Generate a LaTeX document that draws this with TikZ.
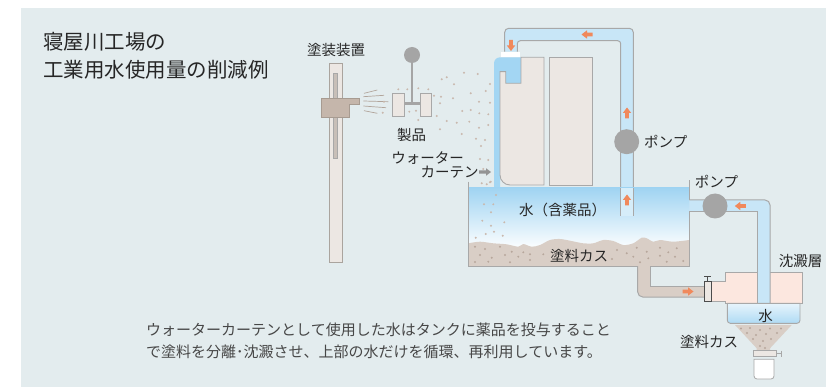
\documentclass[tikz,border=0pt]{standalone}
\usepackage{fontspec}
\setmainfont{Noto Sans CJK JP}
\definecolor{bgc}{HTML}{E3ECEE}
\definecolor{txt}{HTML}{262626}
\definecolor{edge}{HTML}{A8A8A8}
\definecolor{pipeblue}{HTML}{C8E6F7}
\definecolor{pipelight}{HTML}{D6EDF9}
\definecolor{towerblue}{HTML}{A3D6F3}
\definecolor{watertop}{HTML}{A0D4F2}
\definecolor{watermid}{HTML}{CDEAF9}
\definecolor{panelc}{HTML}{ECE7E3}
\definecolor{sedc}{HTML}{D9CEC6}
\definecolor{sedmark}{HTML}{B7A79C}
\definecolor{pumpc}{HTML}{A5A5A5}
\definecolor{flowc}{HTML}{F0895C}
\definecolor{pinkc}{HTML}{FCE7DF}
\definecolor{gunc}{HTML}{C5B6AB}
\definecolor{slotc}{HTML}{C8BFB8}
\definecolor{mist}{HTML}{C9B8AD}
\begin{document}
\begin{tikzpicture}[x=1pt,y=-1pt,
  lbl/.style={inner sep=0pt,text=txt,font=\fontsize{14.5}{17}\selectfont},
  wall/.style={draw=edge,line width=1pt},
  flow/.pic={\fill[flowc] (-5.5,-1.8) -- (0,-1.8) -- (0,-4.2) -- (5.5,0) -- (0,4.2) -- (0,1.8) -- (-5.5,1.8) -- cycle;},
  greyflow/.pic={\fill[pumpc!90!black] (-6,-1.6) -- (1,-1.6) -- (1,-3.8) -- (6,0) -- (1,3.8) -- (1,1.6) -- (-6,1.6) -- cycle;},
  pump/.style={circle,fill=pumpc,inner sep=0pt,minimum size=25pt},
  mistdot/.style={fill=mist},
  seddot/.style={fill=sedmark}]

\useasboundingbox (0,0) rectangle (826,387);
\fill[white] (0,0) rectangle (826,387);
\fill[bgc] (21,8) rectangle (826,387);

% ---------- title ----------
\node[anchor=west,inner sep=0pt,align=left,text=txt,font=\fontsize{20.5}{28}\selectfont]
  (title) at (43,56) {寝屋川工場の\\工業用水使用量の削減例};

% ---------- painting device ----------
\draw[draw=edge!90!brown,fill=panelc,line width=0.8pt] (329,63) rectangle (342,262);
\draw[draw=edge,fill=slotc,line width=0.6pt] (333.7,73) rectangle (337.3,158);
\draw[draw=gunc!85!black,fill=gunc,line width=0.6pt]
  (321,98.3) -- (359.3,98.3) -- (359.3,104) -- (349.3,104) -- (349.3,117.3) -- (321,117.3) -- cycle;
\node[lbl] (device) at (336,50) {塗装装置};
\begin{scope}[draw=gunc!90!black,line width=0.7pt]
  \draw (364,93.3) -- (377.3,90);
  \draw (363.3,96.7) -- (384,95.3);
  \draw (363.3,101) -- (388.3,101.7);
  \draw (363.3,106) -- (386,107.7);
  \draw (364,110.7) -- (377.3,113.3);
\end{scope}

% ---------- product on hanger ----------
\draw[pumpc,line width=2.4pt] (412,60) -- (412,103.3);
\fill[pumpc] (412,55) circle (8);
\draw[pumpc,line width=3pt] (403,103.3) -- (421,103.3);
\draw[edge,fill=panelc,line width=0.8pt] (392.7,93) rectangle (404,116);
\draw[edge,fill=panelc,line width=0.8pt] (420,93) rectangle (431,116);
\node[lbl] (product) at (411.7,135) {製品};

% paint mist
\foreach \p in {(384,101.7),(382.7,112.7),(398.3,89.3),(407.3,89.3),(418.3,88.3),(428.3,89.3),
  (409.3,111.7),(416,110.7),(418.3,120),(436.7,116),(434,95.7),
  (441.7,79.3),(446.7,77.3),(464,72.7),(477.7,74),(454,84.3),(490,84),(441,96.7),(470.7,93.3),
  (485.7,91),(453,98.3),(479,101.7),(490,102.7),(440,103.3),(462.3,111),(470.7,110),(479.3,113.3),
  (488.3,114.3),(446.7,121),(456.7,122.7),(469.3,121.7),(479,127.7),(488.3,125),(440,129.3),
  (461.7,134),(476,138.7),(485,140),(481,146),(480,159),(488.3,160),(483.3,169),(481.7,183.3),
  (490,182.3),(486.7,196),(484,204),(483.3,213.3),(490,225.7),(480,234.3),(486,233.3),(475,246.7)}
  \fill[mistdot] \p circle (1.1);

% ---------- upper circulation pipe ----------
\fill[pipeblue] (504.7,51.7) -- (504.7,32.3) arc[start angle=180,end angle=270,radius=4]
  -- (629.3,28.3) arc[start angle=270,end angle=360,radius=4] -- (633.3,188) -- (620.7,188)
  -- (620.7,43.7) arc[start angle=0,end angle=-90,radius=3] -- (520.3,40.7)
  arc[start angle=270,end angle=180,radius=3] -- (517.3,51.7) -- cycle;
\draw[wall] (504.7,51.7) -- (504.7,32.3) arc[start angle=180,end angle=270,radius=4]
  -- (629.3,28.3) arc[start angle=270,end angle=360,radius=4] -- (633.3,188);
\draw[wall] (517.3,51.7) -- (517.3,43.7) arc[start angle=180,end angle=270,radius=3]
  -- (617.7,40.7) arc[start angle=270,end angle=360,radius=3] -- (620.7,188);
\fill[white] (501,51.7) rectangle (520,57.3);

% ---------- water curtain tower ----------
\fill[towerblue] (494,188) -- (494,63.3) arc[start angle=180,end angle=270,radius=6]
  -- (521,57.3) -- (521,83.3) -- (505.7,83.3) -- (505.7,71.7) -- (500,71.7) -- (500,188) -- cycle;
\draw[edge,fill=panelc,line width=0.9pt] (500,71.7) -- (505.7,71.7) -- (505.7,83.3) -- (521,83.3)
  -- (521,57.3) -- (544,57.3) -- (544,185) -- (510,185)
  arc[start angle=90,end angle=180,radius=10] -- cycle;
\draw[edge,fill=panelc,line width=0.9pt] (549,57.3) rectangle (592.7,185);

\node[pump] (pumpA) at (626.7,141.7) {};
\node[lbl,anchor=west] (pumpAlbl) at (644,141.7) {ポンプ};

% ---------- main tank ----------
\shade[top color=watertop,middle color=watermid,bottom color=white] (468.3,188) rectangle (689.3,250);
\fill[sedc] plot[smooth] coordinates {(468.3,243.3) (480,241.7) (493.3,243.3) (506.7,244.3)
  (518.3,246.7) (523.3,244) (531.7,246.7) (540,245) (550,240) (560,239) (570,240.7) (583.3,243.3)
  (593.3,243.3) (603.3,240) (613.3,241) (623.3,245) (633.3,243.3) (641.7,237.7) (646.7,238.3)
  (653.3,241.7) (660,240) (673.3,241.7) (689.3,240)} -- (689.3,266) -- (468.3,266) -- cycle;
\foreach \p in {(475,246.7),(485,249),(500,246.7),(511.7,251.7),(523.3,252.3),(530,254.3),(480,255),
  (491.7,257.7),(505,255),(518.3,256.7),(530,260),(488.3,261.7),(510,262.3),(475,262),(543.3,254.3),
  (626.7,253.3),(636.7,247.7),(646.7,251.7),(660,247.7),(668.3,252.3),(676.7,248.3),(633.3,256.7),
  (648.3,258.3),(660,255.7),(675,256.7),(683.3,261),(666.7,261.7),(640,262.3),(617,250),(612,259)}
  \fill[seddot] \p circle (1.1);
\foreach \p in {(490.7,181.7),(486.7,184.3),(496,195),(484,204.3),(493.3,204.3),(491,212.3),
  (482.3,220.7),(504.3,222.3),(491,225.7),(494,231.7),(485.7,234),(502.7,235.7),(475.7,237.7)}
  \fill[mistdot] \p circle (1.1);

% rising pipe inside the tank
\fill[pipelight] (620.7,188) rectangle (633.3,216);
\draw[wall] (620.7,188) -- (620.7,216) (633.3,188) -- (633.3,216);

\node[lbl] (water) at (562.5,210) {水（含薬品）};
\node[lbl] (sludge) at (579,256) {塗料カス};

% ---------- sludge drain pipe ----------
\fill[sedc] (637.7,266) -- (637.7,292) arc[start angle=180,end angle=90,radius=5] -- (704,297)
  -- (704,286) -- (650.7,286) -- (650.7,266) -- cycle;
\draw[wall] (637.7,266) -- (637.7,292) arc[start angle=180,end angle=90,radius=5] -- (704,297);
\draw[wall] (650.7,266) -- (650.7,286) -- (704,286);

% tank walls
\draw[wall] (468.3,181.7) -- (468.3,266) -- (637.7,266);
\draw[wall] (650.7,266) -- (689.3,266) -- (689.3,211.7);
\draw[wall] (689.3,200) -- (689.3,180.5);

% ---------- settling tank ----------
\draw[edge,fill=pinkc,line width=0.9pt] (710,281.7) -- (725,281.7) -- (725,272.3) -- (802.7,272.3)
  -- (802.7,303.3) -- (725,303.3) -- (725,301.7) -- (710,301.7) -- cycle;
\node[lbl] (settle) at (800.5,260.7) {沈澱層};

% valve on the drain
\draw[black!70,fill=panelc,line width=0.9pt] (704,281.7) rectangle (711.7,301);
\draw[black!70,line width=1pt] (707.8,281.7) -- (707.8,276.3) (704.3,276.3) -- (711.3,276.3);

% return pipe with pump
\fill[pipeblue] (689.3,200) -- (765,200) arc[start angle=270,end angle=360,radius=5]
  -- (770,303.3) -- (757.3,303.3) -- (757.3,211.7) -- (689.3,211.7) -- cycle;
\draw[wall] (689.3,200) -- (765,200) arc[start angle=270,end angle=360,radius=5] -- (770,303.3);
\draw[wall] (689.3,211.7) -- (757.3,211.7) -- (757.3,303.3);
\node[pump] (pumpB) at (715,206) {};
\node[lbl] (pumpBlbl) at (716.5,181.7) {ポンプ};

% clear water layer
\shade[top color=white!75!watertop,bottom color=watertop!85!white]
  (727.3,303.3) -- (727.3,320.3) arc[start angle=180,end angle=90,radius=3] -- (797,323.3)
  arc[start angle=90,end angle=0,radius=3] -- (800,303.3) -- cycle;
\draw[edge,line width=0.9pt]
  (727.3,303.3) -- (727.3,320.3) arc[start angle=180,end angle=90,radius=3] -- (797,323.3)
  arc[start angle=90,end angle=0,radius=3] -- (800,303.3) -- cycle;
\node[lbl] (clear) at (765.7,316.2) {水};

% hopper, outlet valve and container
\fill[sedc] (735,325) -- (791.7,325) -- (770,348.3) -- (770,351) -- (756.7,351) -- (756.7,348.3) -- cycle;
\foreach \p in {(741,328.5),(750,328),(760,330),(770,328.5),(781,328.5),(747,333),(756,335),(766,334),
  (777,333),(753,339),(763,341),(771,339),(760,346),(765,348)}
  \fill[seddot] \p circle (1.1);
\draw[edge,fill=panelc,line width=0.8pt] (753.3,350.7) rectangle (776.7,356.7);
\draw[edge,line width=1pt] (776.7,353.7) -- (781.5,353.7) (781.5,350.5) -- (781.5,357);
\draw[edge,fill=white,line width=0.8pt] (754,359.3) -- (754,376) arc[start angle=180,end angle=90,radius=3]
  -- (771,379) arc[start angle=90,end angle=0,radius=3] -- (774,359.3) -- cycle;
\node[lbl] (sludge2) at (709,342) {塗料カス};

% ---------- flow direction marks ----------
\pic[rotate=-90] at (511,45.5) {flow};
\pic[rotate=180] at (587,34.5) {flow};
\pic[rotate=90] at (627,113) {flow};
\pic[rotate=90] at (627,200) {flow};
\pic[rotate=180] at (740.3,206) {flow};
\pic at (688,291.5) {flow};

% water curtain label and pointer
\node[lbl] (curtainA) at (427.5,158) {ウォーター};
\node[lbl] (curtainB) at (449.5,172) {カーテン};
\pic at (485,172) {greyflow};

% ---------- caption ----------
\node[anchor=west,inner sep=0pt,align=left,text=txt!85!white,font=\fontsize{15}{22}\selectfont]
  (caption) at (146,341) {ウォーターカーテンとして使用した水はタンクに薬品を投与すること\\で塗料を分離･沈澱させ、上部の水だけを循環、再利用しています。};
\end{tikzpicture}
\end{document}
